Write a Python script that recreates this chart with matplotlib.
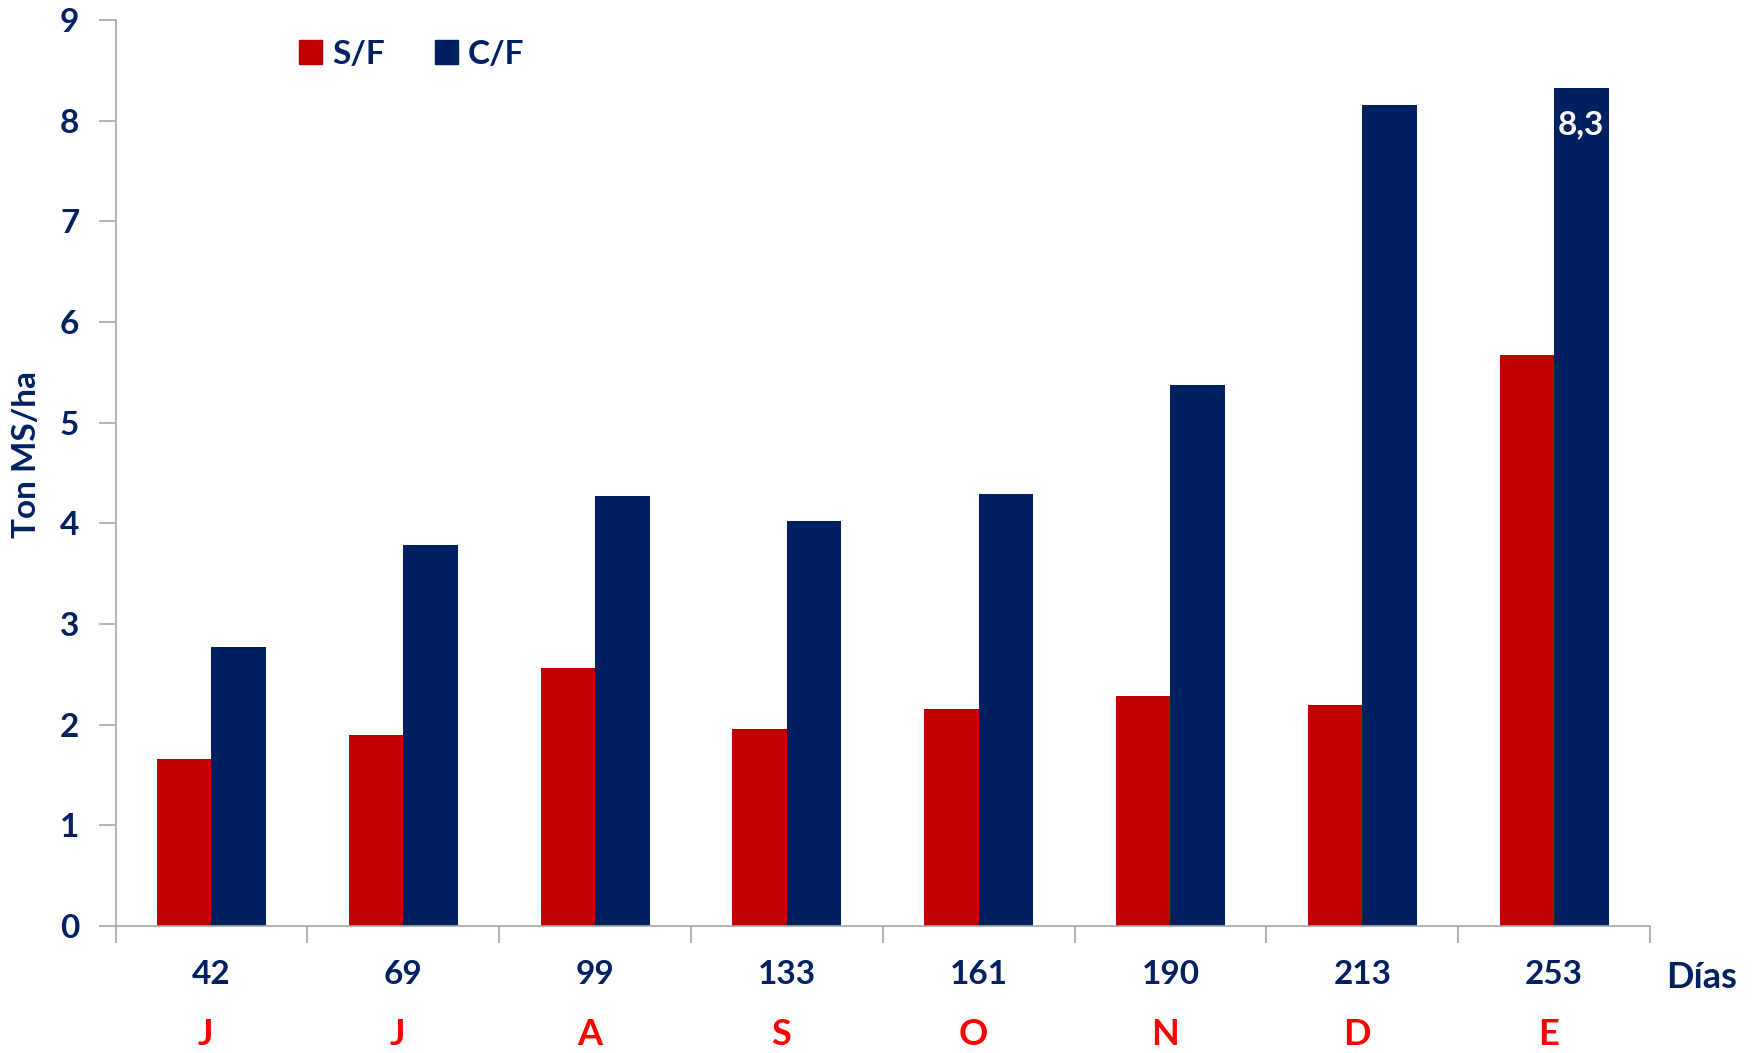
import numpy as np
import matplotlib
matplotlib.use("Agg")
import matplotlib.pyplot as plt
from matplotlib.patches import Patch

plt.rcParams["font.family"] = ["Lato", "DejaVu Sans"]
plt.rcParams["font.weight"] = "bold"

# data
days = ["42", "69", "99", "133", "161", "190", "213", "253"]
months = ["J", "J", "A", "S", "O", "N", "D", "E"]
sf = [1.66, 1.90, 2.56, 1.96, 2.16, 2.28, 2.20, 5.67]
cf = [2.77, 3.78, 4.27, 4.02, 4.29, 5.37, 8.16, 8.32]

RED = "#C00000"
NAVY = "#002060"
AXIS = "#A6A6A6"
FS = 24

fig = plt.figure(figsize=(17.58, 10.53), dpi=100)
ax = fig.add_axes([115.5 / 1758, 1 - 926 / 1053, (1650 - 115.5) / 1758, (926 - 20) / 1053])

x = np.arange(len(days))
w = 0.284
ax.bar(x - w / 2, sf, w, color=RED, label="S/F")
ax.bar(x + w / 2, cf, w, color=NAVY, label="C/F")

ax.set_xlim(-0.5, len(days) - 0.5)
ax.set_ylim(0, 9)
ax.set_yticks(range(10))
ax.tick_params(axis="y", direction="out", length=12, width=1.2, color=AXIS,
               labelsize=FS, labelcolor=NAVY, pad=14)
ax.set_xticks(np.arange(len(days) + 1) - 0.5)
ax.set_xticklabels([])
ax.tick_params(axis="x", direction="out", length=12, width=1.2, color=AXIS)
for s in ["top", "right"]:
    ax.spines[s].set_visible(False)
for s in ["left", "bottom"]:
    ax.spines[s].set_color(AXIS)
    ax.spines[s].set_linewidth(1.2)

for i in x:
    ax.annotate(days[i], xy=(i, 0), xycoords=("data", "axes fraction"),
                xytext=(0, -34.6), textcoords="offset points",
                ha="center", va="center", fontsize=FS, color=NAVY, fontweight="bold")
    ax.annotate(months[i], xy=(i, 0), xycoords=("data", "axes fraction"),
                xytext=(-4, -77.8), textcoords="offset points",
                ha="center", va="center", fontsize=FS + 2, color="#FF0000", fontweight="bold")

ax.annotate("Días", xy=(1, 0), xycoords="axes fraction", xytext=(37, -37),
            textcoords="offset points", ha="center", va="center",
            fontsize=FS + 2, color=NAVY, fontweight="bold")

# value label inside the last C/F bar
ax.text(x[-1] + w / 2, cf[-1] - 0.36, f"{cf[-1]:.1f}".replace(".", ","),
        ha="center", va="center", color="white", fontsize=FS, fontweight="bold")

fig.text(27 / 1758, 1 - 454 / 1053, "Ton MS/ha", rotation=90, ha="center", va="center",
         fontsize=FS, color=NAVY, fontweight="bold")

handles = [Patch(color=RED), Patch(color=NAVY)]
leg = fig.legend(handles, ["S/F", "C/F"], loc="center left",
                 bbox_to_anchor=(282 / 1758, 1 - 54 / 1053), ncol=2, frameon=False,
                 handlelength=0.7, handleheight=0.7, handletextpad=0.3,
                 columnspacing=1.5, borderpad=0, fontsize=FS)
for t in leg.get_texts():
    t.set_color(NAVY)

fig.savefig("out.png", dpi=100)
